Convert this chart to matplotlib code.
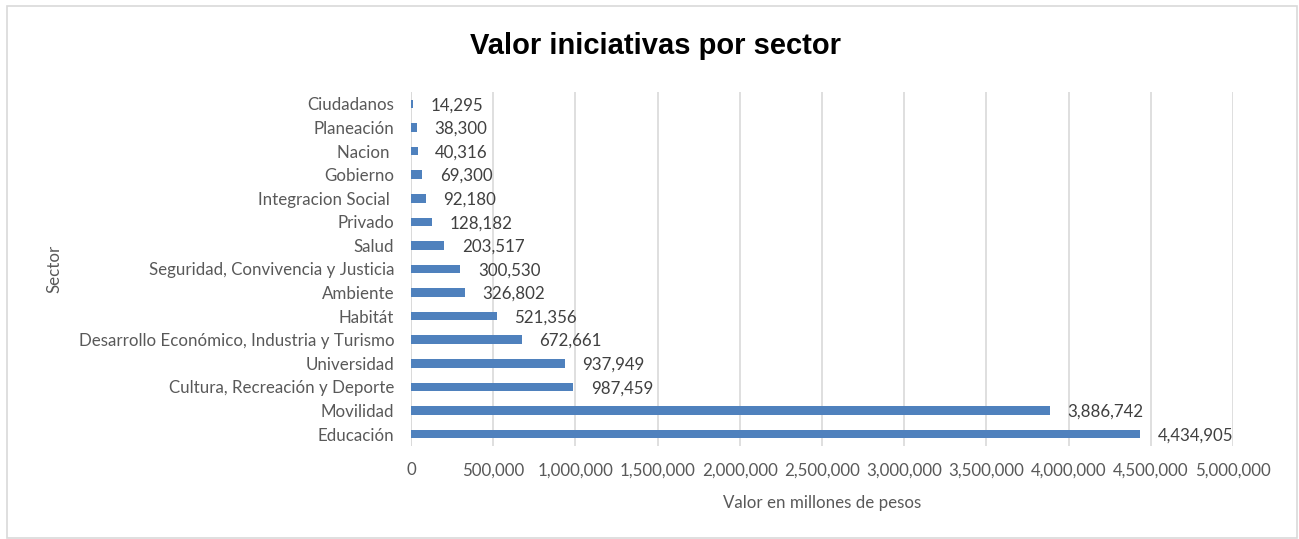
import matplotlib
matplotlib.use("Agg")
import matplotlib.pyplot as plt
from matplotlib.patches import Rectangle
from matplotlib.ticker import FuncFormatter

categories = ["Educación", "Movilidad", "Cultura, Recreación y Deporte", "Universidad",
              "Desarrollo Económico, Industria y Turismo", "Habitát", "Ambiente",
              "Seguridad, Convivencia y Justicia", "Salud", "Privado", "Integracion Social ",
              "Gobierno", "Nacion ", "Planeación", "Ciudadanos"]
values = [4434905, 3886742, 987459, 937949, 672661, 521356, 326802, 300530,
          203517, 128182, 92180, 69300, 40316, 38300, 14295]
xticks = [0, 500000, 1000000, 1500000, 2000000, 2500000, 3000000, 3500000,
          4000000, 4500000, 5000000]

plt.rcParams['font.family'] = ['Lato', 'DejaVu Sans']
txt = "#595959"
W, H = 1299, 539
fig = plt.figure(figsize=(W/100, H/100), dpi=100)
fig.patches.append(Rectangle((7/W, 1/H), (W-9)/W, (H-7)/H, transform=fig.transFigure,
                             fill=False, edgecolor="#d9d9d9", lw=1.2))

ax = fig.add_axes([411/W, 1-445.8/H, 822/W, (445.8-92.2)/H])
ypos = list(range(len(categories)))
ax.barh(ypos, values, height=0.36, color="#4f81bd", zorder=3)
ax.set_xlim(0, 5000000)
ax.set_ylim(-0.5, len(categories)-0.5)
ax.set_xticks(xticks)
ax.xaxis.set_major_formatter(FuncFormatter(lambda v, p: f"{int(v):,}"))
ax.set_yticks(ypos)
ax.set_yticklabels(categories)
ax.tick_params(axis='both', length=0, labelsize=12.2, labelcolor=txt)
ax.tick_params(axis='x', pad=12)
ax.tick_params(axis='y', pad=12)
ax.grid(axis='x', color="#d9d9d9", lw=1.2, zorder=0)
for s in ax.spines.values():
    s.set_visible(False)
ax.axvline(0, color="#d9d9d9", lw=1.2, zorder=1)

for y, v in zip(ypos, values):
    ax.annotate(f"{v:,}", xy=(v, y), xytext=(12.5, -1), textcoords="offset points",
                va="center", ha="left", fontsize=12.2, color="#404040")

ax.set_xlabel("Valor en millones de pesos", fontsize=12.2, color=txt, labelpad=12)
ax.set_ylabel("Sector", fontsize=12.2, color=txt, labelpad=12)
fig.text(655/W, 1-46/H, "Valor iniciativas por sector", ha="center", va="center",
         fontsize=21, fontweight="bold", family="Liberation Sans", color="black")

fig.savefig("out.png", dpi=100)
